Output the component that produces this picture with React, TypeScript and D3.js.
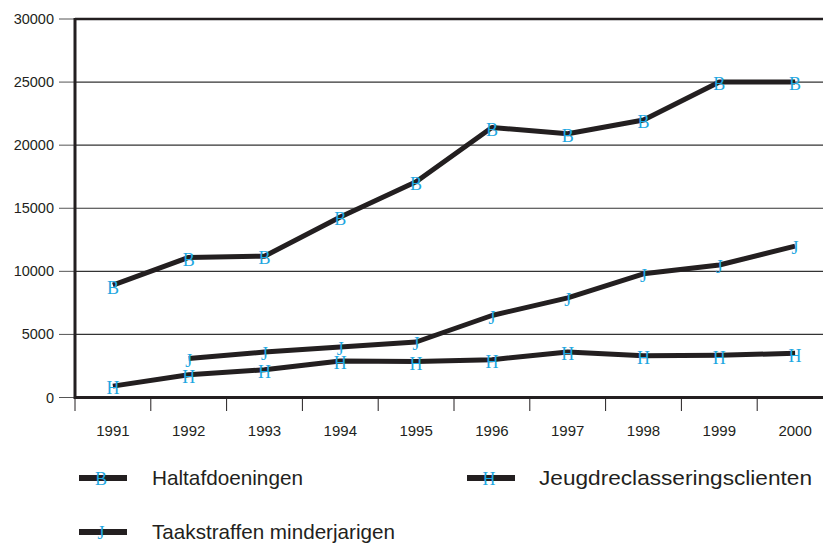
import React from "react";
import * as d3 from "d3";

const years = ["1991","1992","1993","1994","1995","1996","1997","1998","1999","2000"];
const halt = [8900, 11100, 11200, 14300, 17100, 21400, 20900, 22000, 25000, 25000];
const jeugd = [900, 1800, 2200, 2900, 2850, 3000, 3600, 3300, 3350, 3500];
const taak = [null, 3100, 3600, 4000, 4400, 6500, 7900, 9800, 10500, 12000];
const yTicks = [0, 5000, 10000, 15000, 20000, 25000, 30000];

const W = 823, H = 543;
const left = 75, top = 19, bottom = 397.5, right = 833;
const ink = "#231f20";
const cyan = "#1ea7e1";
const markFont = "Liberation Serif, DejaVu Serif, serif";

export default function App() {
  const x = d3.scaleBand<string>().domain(years).range([left, right]);
  const y = d3.scaleLinear().domain([0, 30000]).range([bottom, top]);
  const cx = (yr: string) => (x(yr) as number) + x.bandwidth() / 2;
  const line = d3.line<[string, number | null]>()
    .defined(d => d[1] != null)
    .x(d => cx(d[0]))
    .y(d => y(d[1] as number));

  const series = [
    { name: "Haltafdoeningen", vals: halt, mark: "B" },
    { name: "Jeugdreclasseringsclienten", vals: jeugd, mark: "H" },
    { name: "Taakstraffen minderjarigen", vals: taak, mark: "J" },
  ];

  const legend = [
    { s: series[0], lx: 79, ly: 478, tx: 152, tl: 151 },
    { s: series[1], lx: 467, ly: 478, tx: 539, tl: 273 },
    { s: series[2], lx: 79, ly: 532, tx: 152, tl: 243 },
  ];

  return (
    <svg width={W} height={H} style={{ position: "absolute", left: 0, top: 0 }}>
      <rect width={W} height={H} fill="#fff" />
      {yTicks.filter(t => t > 0 && t < 30000).map(t => (
        <line key={t} x1={left} x2={W} y1={y(t)} y2={y(t)} stroke="#333" strokeWidth={1.2} />
      ))}
      <line x1={left} x2={W} y1={y(30000)} y2={y(30000)} stroke={ink} strokeWidth={2.5} />
      {yTicks.map(t => (
        <g key={t}>
          <line x1={59} x2={left} y1={y(t)} y2={y(t)} stroke="#555" strokeWidth={1} />
          <text x={54} y={y(t)} dy="0.35em" textAnchor="end" fontFamily="Liberation Sans, Arial, sans-serif" fontSize={14.5} fill={ink}>{t}</text>
        </g>
      ))}
      {years.map(yr => (
        <g key={yr}>
          <line x1={x(yr) as number} x2={x(yr) as number} y1={bottom} y2={411} stroke={ink} strokeWidth={1} />
          <text x={cx(yr)} y={431} dy="0.35em" textAnchor="middle" fontFamily="Liberation Sans, Arial, sans-serif" fontSize={15} fill={ink}>{yr}</text>
        </g>
      ))}
      <line x1={left} x2={W} y1={bottom} y2={bottom} stroke={ink} strokeWidth={3} />
      <line x1={left} x2={left} y1={top - 1} y2={bottom + 1.5} stroke={ink} strokeWidth={3} />
      {series.map(s => {
        const pts = years.map((yr, i) => [yr, s.vals[i]] as [string, number | null]);
        return (
          <g key={s.name}>
            <path d={line(pts) || ""} fill="none" stroke={ink} strokeWidth={5} strokeLinejoin="round" />
            {pts.filter(p => p[1] != null).map(p => (
              <text key={p[0]} x={cx(p[0])} y={y(p[1] as number) + 2} dy="0.35em" textAnchor="middle"
                fontFamily={markFont} fontSize={18} fill={cyan}>{s.mark}</text>
            ))}
          </g>
        );
      })}
      {legend.map(({ s, lx, ly, tx, tl }) => (
        <g key={s.name}>
          <line x1={lx} x2={lx + 48} y1={ly} y2={ly} stroke={ink} strokeWidth={6} />
          <text x={lx + 22} y={ly + 1} dy="0.35em" textAnchor="middle" fontFamily={markFont} fontSize={18} fill={cyan}>{s.mark}</text>
          <text x={tx} y={ly} dy="0.35em" textLength={tl} lengthAdjust="spacingAndGlyphs" fontFamily="Liberation Sans, Arial, sans-serif" fontSize={21} fill={ink}>{s.name}</text>
        </g>
      ))}
    </svg>
  );
}
